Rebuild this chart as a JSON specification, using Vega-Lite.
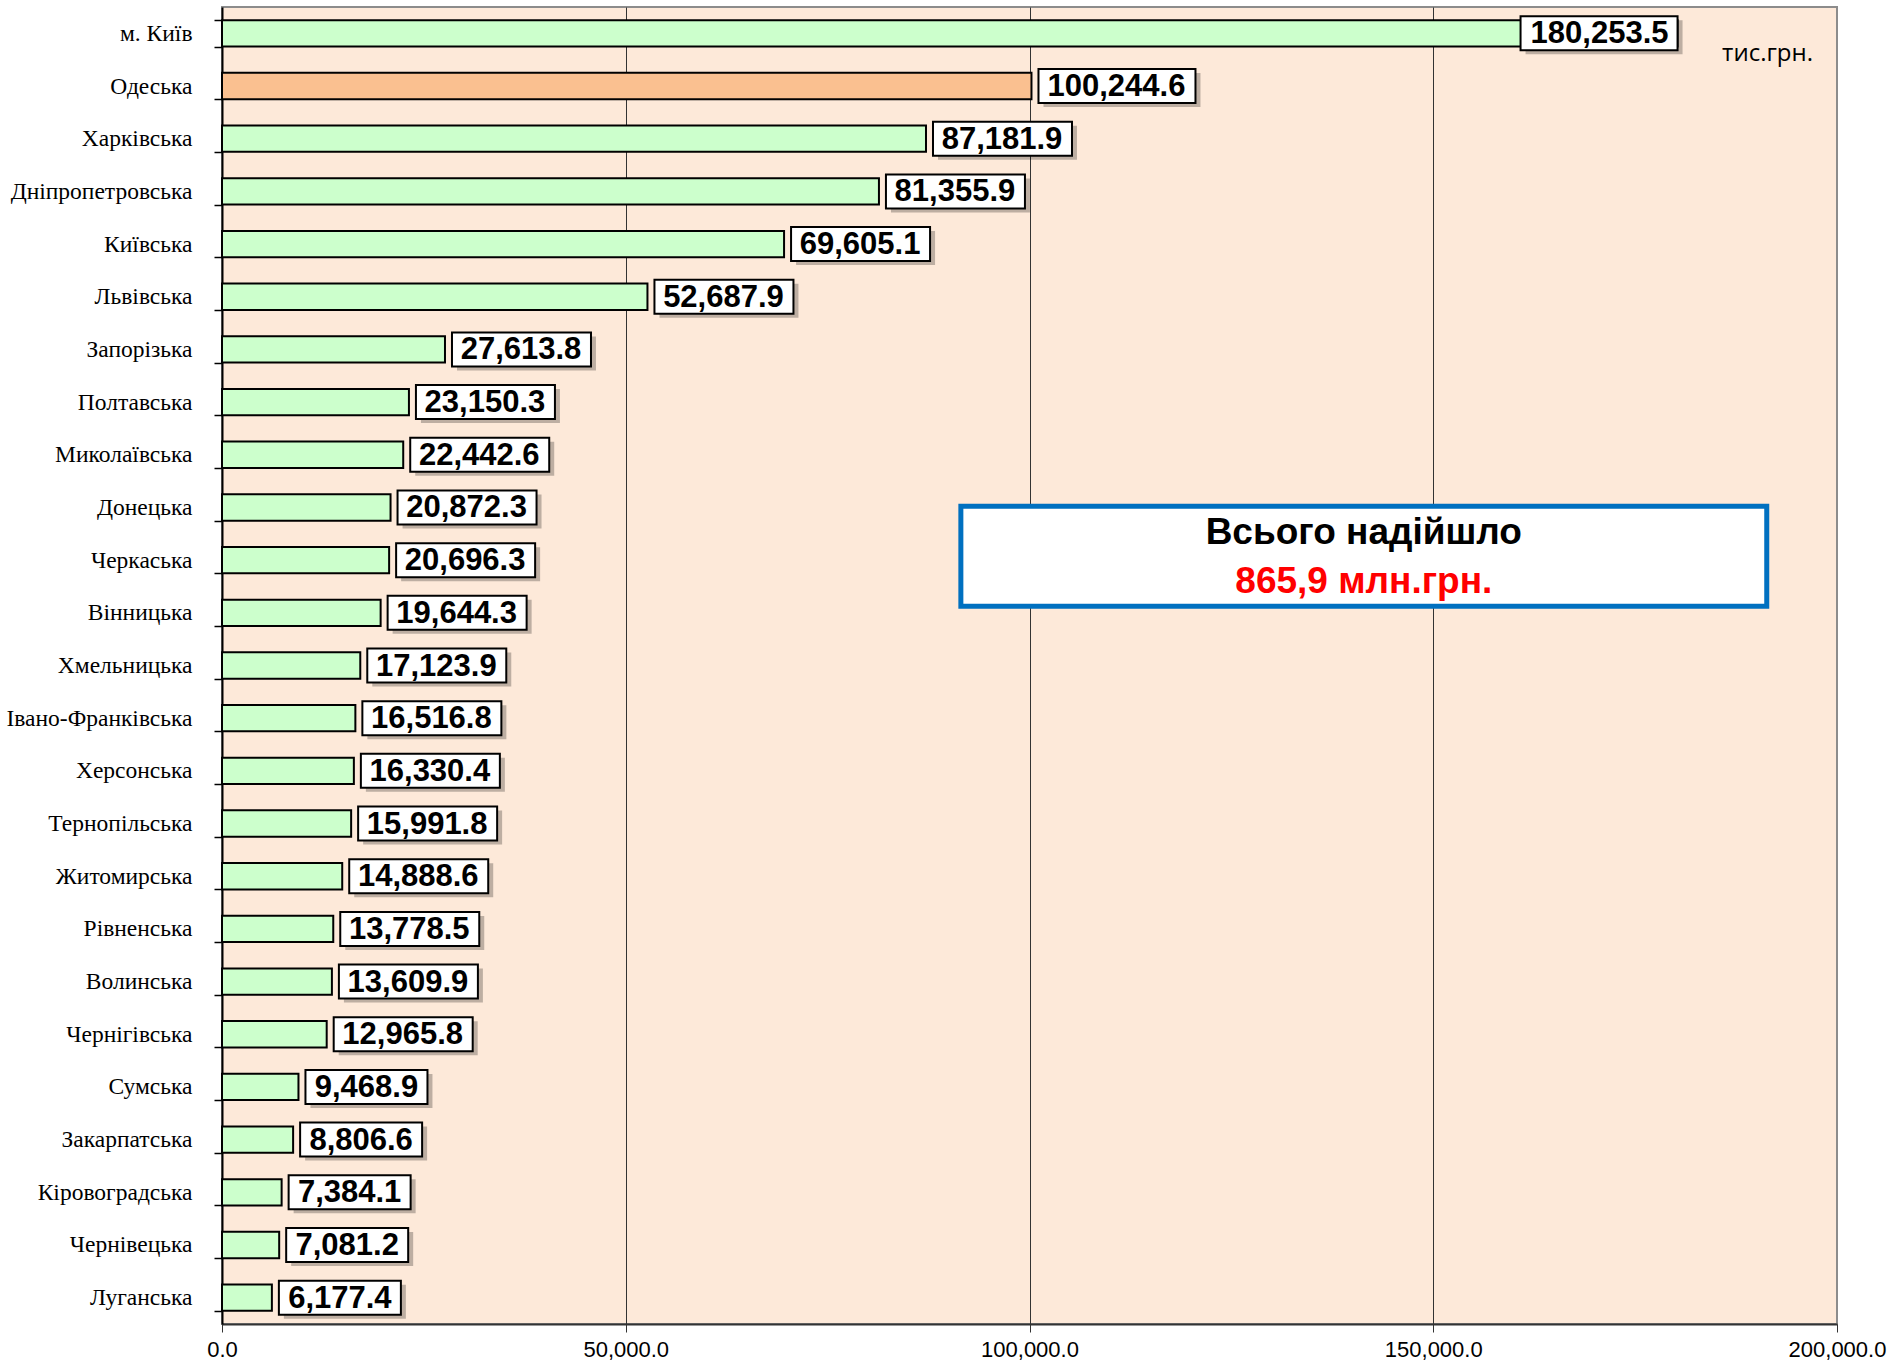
{
  "$schema": "https://vega.github.io/schema/vega-lite/v6.json",
  "width": 1615,
  "height": 1317,
  "autosize": {"type": "none"},
  "padding": {"left": 222, "top": 7, "right": 62, "bottom": 42},
  "background": "white",
  "config": {"view": {"fill": "#FDE9D9", "stroke": "#8C8C8C", "strokeWidth": 2}},
  "data": {"values": [
    {"region": "м. Київ", "value": 180253.5},
    {"region": "Одеська", "value": 100244.6},
    {"region": "Харківська", "value": 87181.9},
    {"region": "Дніпропетровська", "value": 81355.9},
    {"region": "Київська", "value": 69605.1},
    {"region": "Львівська", "value": 52687.9},
    {"region": "Запорізька", "value": 27613.8},
    {"region": "Полтавська", "value": 23150.3},
    {"region": "Миколаївська", "value": 22442.6},
    {"region": "Донецька", "value": 20872.3},
    {"region": "Черкаська", "value": 20696.3},
    {"region": "Вінницька", "value": 19644.3},
    {"region": "Хмельницька", "value": 17123.9},
    {"region": "Івано-Франківська", "value": 16516.8},
    {"region": "Херсонська", "value": 16330.4},
    {"region": "Тернопільська", "value": 15991.8},
    {"region": "Житомирська", "value": 14888.6},
    {"region": "Рівненська", "value": 13778.5},
    {"region": "Волинська", "value": 13609.9},
    {"region": "Чернігівська", "value": 12965.8},
    {"region": "Сумська", "value": 9468.9},
    {"region": "Закарпатська", "value": 8806.6},
    {"region": "Кіровоградська", "value": 7384.1},
    {"region": "Чернівецька", "value": 7081.2},
    {"region": "Луганська", "value": 6177.4}
  ]},
  "encoding": {
    "y": {
      "field": "region", "type": "nominal", "sort": null,
      "scale": {"paddingInner": 0.5, "paddingOuter": 0.25},
      "axis": {
        "title": null, "labelFont": "Liberation Serif", "labelFontSize": 23.5,
        "labelColor": "black", "labelPadding": 22, "labelLimit": 400, "tickBand": "extent",
        "tickSize": 8, "tickColor": "black", "tickWidth": 1.5,
        "domainColor": "black", "domainWidth": 2, "grid": false
      }
    }
  },
  "layer": [
    {
      "mark": {"type": "bar", "stroke": "black", "strokeWidth": 2},
      "encoding": {
        "x": {
          "field": "value", "type": "quantitative",
          "scale": {"domain": [0, 200000], "nice": false, "zero": true},
          "axis": {
            "title": null, "format": ",.1f", "values": [0, 50000, 100000, 150000, 200000],
            "grid": true, "gridColor": "#333333", "gridWidth": 1,
            "gridOpacity": {"condition": {"test": "datum.value == 200000 || datum.value == 0", "value": 0}, "value": 1},
            "labelFont": "Liberation Sans", "labelFontSize": 22, "labelColor": "black",
            "labelFlush": false, "labelOverlap": false,
            "tickSize": 8, "tickColor": "#333333", "labelPadding": 7,
            "domainColor": "#333333", "domainWidth": 2
          }
        },
        "fill": {"condition": {"test": "datum.region === 'Одеська'", "value": "#FAC090"}, "value": "#CCFFCC"}
      }
    },
    {
      "transform": [{"filter": "datum.value >= 150000"}],
      "layer": [
        {"mark": {"type": "bar", "height": 34, "xOffset": -152, "x2Offset": 5, "yOffset": 4, "fill": "black", "opacity": 0.25},
         "encoding": {"x": {"field": "value", "type": "quantitative"}, "x2": {"field": "value"}}},
        {"mark": {"type": "bar", "height": 34, "xOffset": -157, "x2Offset": 0, "fill": "white", "stroke": "black", "strokeWidth": 2},
         "encoding": {"x": {"field": "value", "type": "quantitative"}, "x2": {"field": "value"}}},
        {"mark": {"type": "text", "font": "Liberation Sans", "fontWeight": "bold", "fontSize": 31, "align": "center", "baseline": "middle", "dx": -78, "dy": 1, "color": "black"},
         "encoding": {"x": {"field": "value", "type": "quantitative"}, "text": {"field": "value", "type": "quantitative", "format": ",.1f"}}}
      ]
    },
    {
      "transform": [{"filter": "datum.value >= 100000 && datum.value < 150000"}],
      "layer": [
        {"mark": {"type": "bar", "height": 34, "xOffset": 12, "x2Offset": 169, "yOffset": 4, "fill": "black", "opacity": 0.25},
         "encoding": {"x": {"field": "value", "type": "quantitative"}, "x2": {"field": "value"}}},
        {"mark": {"type": "bar", "height": 34, "xOffset": 7, "x2Offset": 164, "fill": "white", "stroke": "black", "strokeWidth": 2},
         "encoding": {"x": {"field": "value", "type": "quantitative"}, "x2": {"field": "value"}}},
        {"mark": {"type": "text", "font": "Liberation Sans", "fontWeight": "bold", "fontSize": 31, "align": "center", "baseline": "middle", "dx": 85, "dy": 1, "color": "black"},
         "encoding": {"x": {"field": "value", "type": "quantitative"}, "text": {"field": "value", "type": "quantitative", "format": ",.1f"}}}
      ]
    },
    {
      "transform": [{"filter": "datum.value >= 10000 && datum.value < 100000"}],
      "layer": [
        {"mark": {"type": "bar", "height": 34, "xOffset": 12, "x2Offset": 151, "yOffset": 4, "fill": "black", "opacity": 0.25},
         "encoding": {"x": {"field": "value", "type": "quantitative"}, "x2": {"field": "value"}}},
        {"mark": {"type": "bar", "height": 34, "xOffset": 7, "x2Offset": 146, "fill": "white", "stroke": "black", "strokeWidth": 2},
         "encoding": {"x": {"field": "value", "type": "quantitative"}, "x2": {"field": "value"}}},
        {"mark": {"type": "text", "font": "Liberation Sans", "fontWeight": "bold", "fontSize": 31, "align": "center", "baseline": "middle", "dx": 76, "dy": 1, "color": "black"},
         "encoding": {"x": {"field": "value", "type": "quantitative"}, "text": {"field": "value", "type": "quantitative", "format": ",.1f"}}}
      ]
    },
    {
      "transform": [{"filter": "datum.value < 10000"}],
      "layer": [
        {"mark": {"type": "bar", "height": 34, "xOffset": 12, "x2Offset": 134, "yOffset": 4, "fill": "black", "opacity": 0.25},
         "encoding": {"x": {"field": "value", "type": "quantitative"}, "x2": {"field": "value"}}},
        {"mark": {"type": "bar", "height": 34, "xOffset": 7, "x2Offset": 129, "fill": "white", "stroke": "black", "strokeWidth": 2},
         "encoding": {"x": {"field": "value", "type": "quantitative"}, "x2": {"field": "value"}}},
        {"mark": {"type": "text", "font": "Liberation Sans", "fontWeight": "bold", "fontSize": 31, "align": "center", "baseline": "middle", "dx": 68, "dy": 1, "color": "black"},
         "encoding": {"x": {"field": "value", "type": "quantitative"}, "text": {"field": "value", "type": "quantitative", "format": ",.1f"}}}
      ]
    },
    {
      "data": {"values": [{}]},
      "mark": {"type": "bar", "height": 100, "yOffset": -4, "fill": "white", "stroke": "#0070C0", "strokeWidth": 5},
      "encoding": {"x": {"datum": 91500, "type": "quantitative"}, "x2": {"datum": 191300}, "y": {"datum": "Черкаська", "type": "nominal"}}
    },
    {
      "data": {"values": [{"t": "Всього надійшло"}]},
      "mark": {"type": "text", "font": "Liberation Sans", "fontWeight": "bold", "fontSize": 37, "align": "center", "baseline": "middle", "dy": -27, "color": "black"},
      "encoding": {"x": {"datum": 141400, "type": "quantitative"}, "y": {"datum": "Черкаська", "type": "nominal"}, "text": {"field": "t"}}
    },
    {
      "data": {"values": [{"t": "865,9 млн.грн."}]},
      "mark": {"type": "text", "font": "Liberation Sans", "fontWeight": "bold", "fontSize": 37, "align": "center", "baseline": "middle", "dy": 22, "color": "#FF0000"},
      "encoding": {"x": {"datum": 141400, "type": "quantitative"}, "y": {"datum": "Черкаська", "type": "nominal"}, "text": {"field": "t"}}
    },
    {
      "data": {"values": [{"t": "тис.грн."}]},
      "mark": {"type": "text", "font": "Open Sans", "fontSize": 24, "align": "right", "baseline": "middle", "dx": -24, "dy": 21, "color": "black"},
      "encoding": {"x": {"datum": 200000, "type": "quantitative"}, "y": {"datum": "м. Київ", "type": "nominal"}, "text": {"field": "t"}}
    }
  ]
}
